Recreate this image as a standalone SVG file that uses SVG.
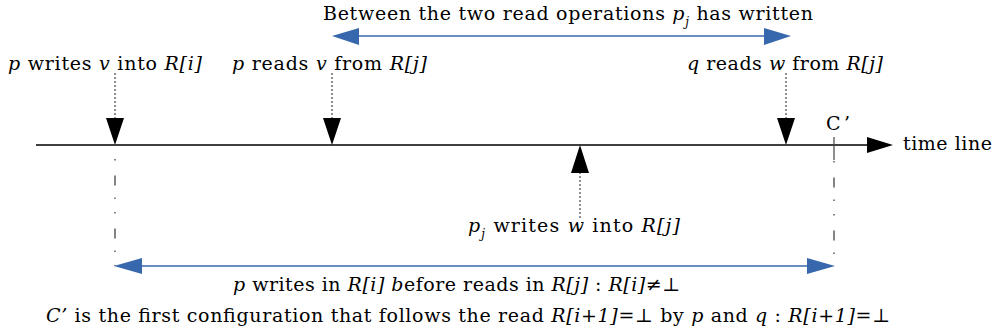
<svg xmlns="http://www.w3.org/2000/svg" width="998" height="333" viewBox="0 0 998 333">
<style>
text{font-family:"DejaVu Serif","Liberation Serif",serif;font-size:19px;fill:#000}
.i{font-style:italic}
.sub{font-style:italic;font-size:12px}
.dot{stroke:#444;stroke-width:1.2;stroke-dasharray:2 2;fill:none}
.dd{stroke:#444;stroke-width:1.3;stroke-dasharray:1.5 15 10 12 1.5 13;fill:none}
.blue{stroke:#3767ad;stroke-width:1.3;fill:none}
.bh{fill:#3767ad}
.blk{fill:#000}
</style>
<rect width="998" height="333" fill="#fff"/>

<g id="timeline">
<line x1="36" y1="145" x2="870" y2="145" stroke="#000" stroke-width="1.3"/>
<polygon class="blk" points="867,137 893,145 867,153"/>
<text x="903" y="150" textLength="89">time line</text>
</g>

<g id="connectors">
<line class="dot" x1="115" y1="73" x2="115" y2="119"/>
<line class="dot" x1="332" y1="73" x2="332" y2="119"/>
<line class="dot" x1="786" y1="73" x2="786" y2="119"/>
<line class="dot" x1="580" y1="172" x2="580" y2="218"/>
<line class="dd" x1="115" y1="159" x2="115" y2="266"/>
<line class="dd" x1="834" y1="161" x2="834" y2="266"/>
<line x1="834" y1="137" x2="834" y2="160" stroke="#444" stroke-width="1.2"/>
<line class="blue" x1="355" y1="36" x2="766" y2="36"/>
<polygon class="bh" points="332,36 359,28 359,45"/>
<polygon class="bh" points="791,36 764,28 764,45"/>
<line class="blue" x1="138" y1="266" x2="810" y2="266"/>
<polygon class="bh" points="114,266 142,258 142,274"/>
<polygon class="bh" points="835,266 807,258 807,274"/>
</g>

<g id="n-write-i">
<polygon class="blk" points="106,118 124,118 115,145"/>
<text x="8" y="70" textLength="194"><tspan class="i">p</tspan> writes <tspan class="i">v</tspan> into <tspan class="i">R[i]</tspan></text>
</g>

<g id="n-read-j">
<polygon class="blk" points="323,118 341,118 332,145"/>
<text x="232" y="70" textLength="195"><tspan class="i">p</tspan> reads <tspan class="i">v</tspan> from <tspan class="i">R[j]</tspan></text>
</g>

<g id="n-q-read">
<polygon class="blk" points="777,118 795,118 786,145"/>
<text x="687" y="70" textLength="196"><tspan class="i">q</tspan> reads <tspan class="i">w</tspan> from <tspan class="i">R[j]</tspan></text>
</g>

<g id="n-pj-write">
<polygon class="blk" points="571,173 589,173 580,145"/>
<text x="468" y="232" textLength="212"><tspan class="i">p</tspan><tspan class="sub" dy="6">j</tspan><tspan dy="-6"> writes </tspan><tspan class="i">w</tspan> into <tspan class="i">R[j]</tspan></text>
</g>

<g id="n-cprime">
<text x="826" y="130" textLength="24">C’</text>
</g>

<g id="labels">
<text x="323" y="20" textLength="490">Between the two read operations <tspan class="i">p</tspan><tspan class="sub" dy="6">j</tspan><tspan dy="-6"> has written</tspan></text>
<text x="233" y="291" textLength="447"><tspan class="i">p</tspan> writes in <tspan class="i">R[i] b</tspan>efore reads in <tspan class="i">R[j]</tspan> : <tspan class="i">R[i]≠⊥</tspan></text>
<text x="46" y="322" textLength="844"><tspan class="i">C’</tspan> is the first configuration that follows the read <tspan class="i">R[i+1]=⊥</tspan> by <tspan class="i">p</tspan> and <tspan class="i">q</tspan> : <tspan class="i">R[i+1]=⊥</tspan></text>
</g>
</svg>
